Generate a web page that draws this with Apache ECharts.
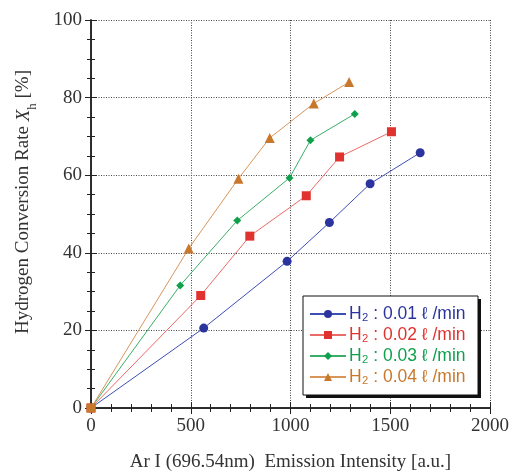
<!DOCTYPE html>
<html><head><meta charset="utf-8">
<script src="https://cdn.jsdelivr.net/npm/echarts@6/dist/echarts.min.js"></script>
<style>html,body{margin:0;padding:0;background:#fff}#c{width:510px;height:474px}</style>
</head><body><div id="c"></div>
<script>
const seriesNames = ['H₂ : 0.01 ℓ /min','H₂ : 0.02 ℓ /min','H₂ : 0.03 ℓ /min','H₂ : 0.04 ℓ /min'];
const xTicks = [0,500,1000,1500,2000];
const yTicks = [0,20,40,60,80,100];
const flow001 = [[0,0],[565,20.6],[983,37.8],[1195,47.8],[1399,57.8],[1650,65.8]];
const flow002 = [[0,0],[550,29.0],[796,44.3],[1079,54.7],[1246,64.7],[1506,71.2]];
const flow003 = [[0,0],[447,31.6],[733,48.3],[995,59.3],[1100,69.0],[1322,75.8]];
const flow004 = [[0,0],[490,41.1],[739,59.1],[896,69.6],[1117,78.5],[1294,84.0]];

const markerColors = ['#2a349c','#e0322e','#10a04c','#c8782c'];
const lineColors = ['#3d4fb4','#ea6a66','#3aae68','#d9955a'];
const symbols = ['circle','rect','diamond','triangle'];
const sizes = [9,9,8,10];
const datasets = [flow001,flow002,flow003,flow004];

const chart = echarts.init(document.getElementById('c'));
const serif = 'Liberation Serif';
const axisLine = {show:true, lineStyle:{color:'#222', width:1.5}};
const series = datasets.map((d,i)=>({
  name: seriesNames[i], type:'line', xAxisIndex:0, yAxisIndex:0,
  data: d.map((p,j)=> (i===3 && j===0) ? {value:p, symbol:'rect', symbolSize:9} : p),
  symbol: symbols[i], symbolSize: sizes[i], showSymbol:true,
  itemStyle:{color:markerColors[i]},
  lineStyle:{color:lineColors[i], width:1},
  emphasis:{disabled:true}, animation:false, z: 2+i
}));
chart.setOption({
  animation:false,
  grid:{left:91, right:20, top:20, bottom:66, outerBoundsMode:'none', containLabel:false},
  graphic:[
    {type:'rect', z:50, zlevel:0, shape:{x:306, y:299, width:175, height:99}, style:{fill:'#111'}},
    {type:'rect', z:51, zlevel:0, shape:{x:303, y:296, width:175, height:99}, style:{fill:'#fff', stroke:'#111', lineWidth:1}}
  ],
  xAxis:[{
    type:'value', min:0, max:2000, interval:500, position:'bottom',
    axisLine, axisTick:{show:true, inside:true, length:6, lineStyle:{color:'#222'}},
    minorTick:{show:true, splitNumber:5, length:4, lineStyle:{color:'#222'}},
    splitLine:{show:true, lineStyle:{color:'#444', type:[1,1.5], width:1}},
    axisLabel:{fontFamily:serif, fontSize:19, color:'#333', margin:9,
      formatter:v=> xTicks.includes(v)? String(v):''},
    name:'Ar I (696.54nm)  Emission Intensity [a.u.]', nameLocation:'middle', nameGap:45,
    nameTextStyle:{fontFamily:serif, fontSize:19, color:'#333'}
  },{
    type:'value', min:0, max:2000, interval:500, position:'top',
    axisLine, axisTick:{show:true, inside:true, length:6, lineStyle:{color:'#222'}},
    minorTick:{show:true, splitNumber:5, length:4, lineStyle:{color:'#222'}},
    splitLine:{show:false}, axisLabel:{show:false}
  }],
  yAxis:[{
    type:'value', min:0, max:100, interval:20, position:'left',
    axisLine, axisTick:{show:true, inside:true, length:6, lineStyle:{color:'#222'}},
    minorTick:{show:true, splitNumber:4, length:4, lineStyle:{color:'#222'}},
    splitLine:{show:true, lineStyle:{color:'#444', type:[1,1.5], width:1}},
    axisLabel:{fontFamily:serif, fontSize:19, color:'#333', margin:9,
      formatter:v=> yTicks.includes(v)? String(v):''},
    name:'{a|Hydrogen Conversion Rate }{i|X}{s|h}{a| [%]}', nameLocation:'middle', nameGap:58, nameRotate:90,
    nameTextStyle:{fontFamily:serif, fontSize:19, color:'#333', padding:[0,0,0,24],
      rich:{a:{fontFamily:serif, fontSize:19, color:'#333'},
            i:{fontFamily:serif, fontSize:19, fontStyle:'italic', color:'#333'},
            s:{fontFamily:serif, fontSize:13, color:'#333', verticalAlign:'bottom', padding:[0,0,-6,0]}}}
  },{
    type:'value', min:0, max:100, interval:20, position:'right',
    axisLine, axisTick:{show:true, inside:true, length:6, lineStyle:{color:'#222'}},
    minorTick:{show:true, splitNumber:4, length:4, lineStyle:{color:'#222'}},
    splitLine:{show:false}, axisLabel:{show:false}
  }],
  legend:{
    orient:'vertical', left:303, top:296, width:175, z:60,
    data: seriesNames.map((n,i)=>({name:n, textStyle:{color:markerColors[i]}})),
    itemWidth:36, itemHeight:10, itemGap:3,
    padding:[9,8,7,6],
    textStyle:{fontFamily:'Liberation Sans', fontSize:17.5, lineHeight:17, padding:[0,0,0,-2]},
    selectedMode:false
  },
  series
});
</script></body></html>
